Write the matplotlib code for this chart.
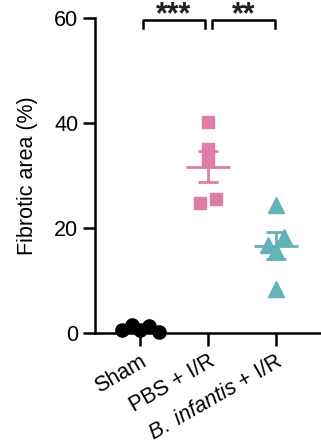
import numpy as np
import matplotlib
matplotlib.use('Agg')
import matplotlib.pyplot as plt

plt.rcParams['font.family'] = ['Liberation Sans', 'DejaVu Sans']
plt.rcParams['mathtext.fontset'] = 'custom'
plt.rcParams['mathtext.rm'] = 'Liberation Sans'
plt.rcParams['mathtext.it'] = 'Liberation Sans:italic'

groups = ['Sham', 'PBS + I/R', r'$\it{B.\ infantis}$ + I/R']
sham = [0.5, 1.5, 0.6, 1.3, 0.2]
sham_x = [-0.27, -0.12, 0.0, 0.13, 0.28]
pbs = [40.2, 35.0, 33.0, 24.7, 25.6]
pbs_x = [0.0, 0.0, 0.0, -0.12, 0.12]
binf = [24.3, 18.2, 16.7, 15.6, 8.4]
binf_x = [0.0, 0.12, -0.12, 0.0, 0.0]

colors = ['#000000', '#E07CA6', '#62B2B6']
markers = ['o', 's', '^']
sizes = [9.5, 9, 11]

fig = plt.figure(figsize=(3.21, 4.44), dpi=100)
ax = fig.add_axes([0.296, 0.25, 0.704, 0.7095])

data = [sham, pbs, binf]
offsets = [sham_x, pbs_x, binf_x]
for i, (vals, dx) in enumerate(zip(data, offsets)):
    vals = np.array(vals)
    xs = i + np.array(dx)
    ax.plot(xs, vals, linestyle='none', marker=markers[i], ms=sizes[i],
            color=colors[i], mec=colors[i], clip_on=False, zorder=3)
    m = vals.mean()
    sem = vals.std(ddof=1) / np.sqrt(len(vals))
    ax.hlines(m, i - 0.32, i + 0.32, color=colors[i], lw=2, zorder=4)
    ax.vlines(i, m - sem, m + sem, color=colors[i], lw=2, zorder=4)
    ax.hlines([m - sem, m + sem], i - 0.15, i + 0.15, color=colors[i], lw=2, zorder=4)

ax.set_xlim(-0.66, 2.66)
ax.set_ylim(0, 60)
ax.set_yticks([0, 20, 40, 60])
ax.set_xticks([0, 1, 2])
ax.set_xticklabels(groups, rotation=30, ha='right', rotation_mode='anchor')
ax.set_ylabel('Fibrotic area (%)', fontsize=15.5, labelpad=12)

for s in ['top', 'right']:
    ax.spines[s].set_visible(False)
for s in ['left', 'bottom']:
    ax.spines[s].set_linewidth(1.8)
ax.tick_params(axis='both', width=1.8, length=9, labelsize=15.5, direction='out')
ax.tick_params(axis='x', pad=4)
ax.tick_params(axis='y', pad=3)

# significance brackets
def bracket(x1, x2, y, h, text):
    ax.plot([x1, x1, x2, x2], [y - h, y, y, y - h], color='black', lw=1.8,
            clip_on=False, zorder=5)
    ax.text((x1 + x2) / 2, 59.0, text, ha='center', va='baseline',
            fontsize=22, fontweight='bold', color='#231f20', clip_on=False)

bracket(0.04, 0.95, 59.6, 1.6, '***')
bracket(1.06, 1.98, 59.6, 1.6, '**')

fig.savefig('out.png', dpi=100)
